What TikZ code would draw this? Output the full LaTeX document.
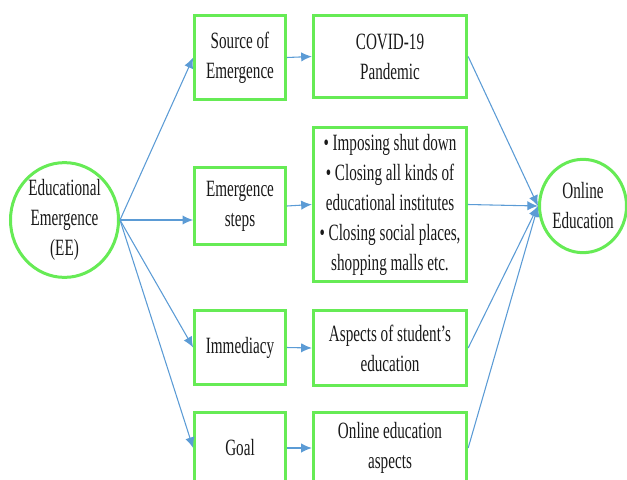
\documentclass[tikz,border=0pt]{standalone}
\usepackage{fontspec}
\setmainfont{Liberation Serif}[FakeStretch=0.65]
\usetikzlibrary{arrows.meta,shapes.geometric}
\definecolor{boxgreen}{RGB}{102,235,85}
\definecolor{linkblue}{RGB}{91,155,213}

\begin{document}
\begin{tikzpicture}
  [x=0.75pt,y=-0.75pt,
   every node/.style={align=center,font=\fontsize{17.5}{22.5}\selectfont,text=black!90},
   stage/.style={rectangle,draw=boxgreen,line width=2.25pt,minimum width=68pt},
   detail/.style={rectangle,draw=boxgreen,line width=2.25pt,minimum width=115pt},
   hub/.style={ellipse,draw=boxgreen,line width=2.25pt,inner sep=0pt},
   link/.style={draw=linkblue,line width=0.8pt,-{Latex[length=8pt,width=7pt]}}]
  \useasboundingbox (0,0) rectangle (627,479);

  % outer nodes
  \node[hub,minimum width=81pt,minimum height=84pt] (ee) at (64.5,220) {Educational\\Emergence\\(EE)};
  \node[hub,minimum width=53pt,minimum height=70pt] (oe) at (583,206) {Online\\Education};

  % first column
  \node[stage,minimum height=63pt] (src) at (240,57.5) {Source of\\Emergence};
  \node[stage,minimum height=58pt] (stp) at (240,206) {Emergence\\steps};
  \node[stage,minimum height=55.5pt] (imm) at (240,347.5) {Immediacy};
  \node[stage,minimum height=54pt] (gol) at (240,448) {Goal};

  % second column
  \node[detail,minimum height=115.5pt] (shut) at (390,204.5)
    {\textbullet\ Imposing shut down\\\textbullet\ Closing all kinds of\\educational institutes\\\textbullet\ Closing social places,\\shopping malls etc.};
  \node[detail,minimum height=61.5pt] (cov) at (390,56.5) {COVID-19\\Pandemic};
  \node[detail,minimum height=56pt] (asp) at (390,348) {Aspects of student’s\\education};
  \node[detail,minimum height=54pt] (onl) at (390,448) {Online education\\aspects};

  \draw[link] (ee.east) -- (src.west);
  \draw[link] (ee.east) -- (ee.east -| stp.west);
  \draw[link] (ee.east) -- (imm.west);
  \draw[link] (ee.east) -- (gol.west);

  \foreach \from/\to in {src/cov,stp/shut,imm/asp,gol/onl}
    \draw[link] (\from.east) -- (\to.west);

  \foreach \from in {cov,shut,asp,onl}
    \draw[link] (\from.east) -- (oe.west);
\end{tikzpicture}
\end{document}
